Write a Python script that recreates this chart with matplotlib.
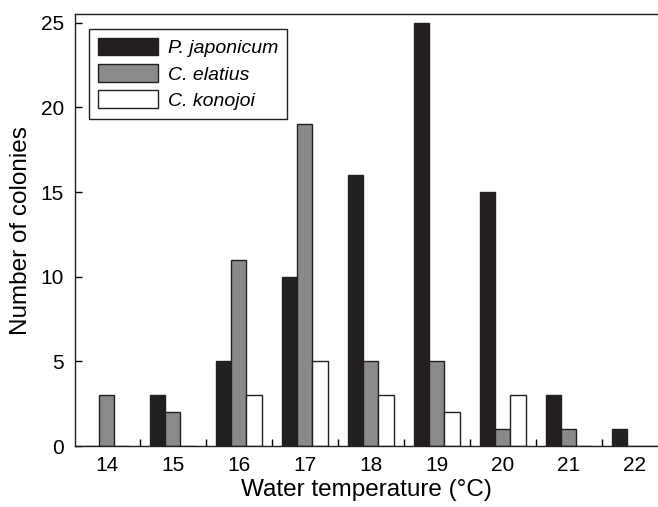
import numpy as np
import matplotlib.pyplot as plt
from matplotlib.ticker import FixedLocator

plt.rcParams['font.family'] = ['Liberation Sans', 'DejaVu Sans']

temps = [14, 15, 16, 17, 18, 19, 20, 21, 22]
p_japonicum = [0, 3, 5, 10, 16, 25, 15, 3, 1]
c_elatius = [3, 2, 11, 19, 5, 5, 1, 1, 0]
c_konojoi = [0, 0, 3, 5, 3, 2, 3, 0, 0]

x = np.array(temps)
w = 0.23

fig = plt.figure(figsize=(6.58, 5.07), dpi=100)
ax = fig.add_axes([0.114, 0.120, 0.886, 0.852])

kw = dict(width=w, edgecolor="#231f20", linewidth=1.0)
ax.bar(x - w, p_japonicum, color="#231f20", label="P. japonicum", **kw)
ax.bar(x, c_elatius, color="#8a8a8d", label="C. elatius", **kw)
ax.bar(x + w, c_konojoi, color="white", label="C. konojoi", **kw)

ax.set_xlim(13.52, 22.35)
ax.set_ylim(0, 25.5)
ax.set_xticks(temps)
ax.set_xticklabels([str(t) for t in temps])
ax.xaxis.set_minor_locator(FixedLocator(np.arange(14.5, 22, 1.0)))
ax.tick_params(axis="x", which="major", length=0, labelsize=15, pad=7)
ax.tick_params(axis="x", which="minor", direction="in", length=5, width=1)
ax.set_yticks([0, 5, 10, 15, 20, 25])
ax.tick_params(axis="y", direction="in", length=5, width=1, labelsize=15, pad=8)

ax.spines["right"].set_visible(False)
for s in ["left", "bottom", "top"]:
    ax.spines[s].set_linewidth(1.0)
    ax.spines[s].set_color("#231f20")

ax.set_xlabel("Water temperature (°C)", fontsize=17.5, labelpad=3)
ax.set_ylabel("Number of colonies", fontsize=17.5, labelpad=6)

leg = ax.legend(loc="upper left", bbox_to_anchor=(0.024, 0.965),
                prop={"style": "italic", "size": 14},
                handlelength=3.1, handleheight=1.0, fancybox=False,
                framealpha=1, edgecolor="#231f20", borderpad=0.45,
                borderaxespad=0, labelspacing=0.35, handletextpad=0.5)
leg.get_frame().set_linewidth(1.0)

fig.savefig("out.png", dpi=100)
